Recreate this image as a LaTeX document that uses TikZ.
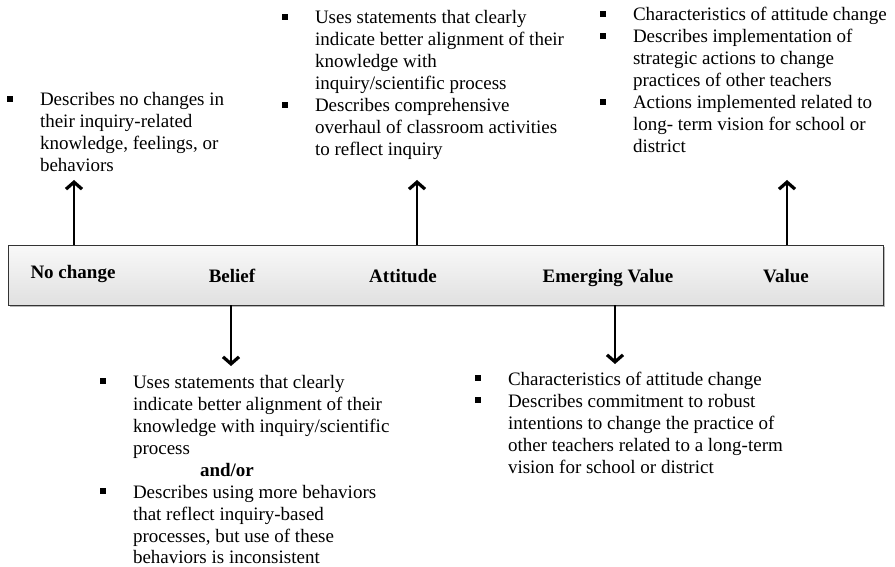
\documentclass[tikz,border=0pt]{standalone}
\usepackage{fontspec}
\setmainfont{Liberation Serif}
\usetikzlibrary{arrows.meta,shadows}

% square bullet followed by the hanging text column
\newcommand\sqb{\makebox[33pt][l]{\rule[4pt]{6pt}{6pt}}}

\begin{document}
\begin{tikzpicture}[x=1pt,y=-1pt,
  every node/.style={inner sep=0pt,outer sep=0pt},
  body/.style={anchor=base west,font=\fontsize{19}{22}\selectfont},
  stage/.style={anchor=base,font=\fontsize{19}{22}\selectfont\bfseries},
  arr/.style={line width=2.6pt,
    -{Straight Barb[length=7pt,width=16pt,line width=3.2pt]}},
  band/.style={draw=black!80,line width=0.9pt,top color=gray!5,bottom color=gray!24,
    minimum width=875pt,minimum height=60pt,
    drop shadow={shadow xshift=2pt,shadow yshift=-2pt,fill=gray!70,opacity=0.8}}]

\useasboundingbox (0,0) rectangle (895,567);

% the continuum band
\node[band] (bar) at (445.5,275) {};

\node[stage] (nochange) at (73,278) {No change};
\node[stage] (belief)   at (232,282) {Belief};
\node[stage] (attitude) at (403,282) {Attitude};
\node[stage] (emerging) at (608,282) {Emerging Value};
\node[stage] (value)    at (786,282) {Value};

% arrow ends
\coordinate (t1) at (74,180);
\coordinate (t2) at (417,180);
\coordinate (t3) at (787,180);
\coordinate (t4) at (231,366);
\coordinate (t5) at (615,364);

\draw[arr] (t1 |- bar.north) -- (t1);
\draw[arr] (t2 |- bar.north) -- (t2);
\draw[arr] (t3 |- bar.north) -- (t3);
\draw[arr] (t4 |- bar.south) -- (t4);
\draw[arr] (t5 |- bar.south) -- (t5);

% descriptors above the band
\node[body] (d1) at (7,106) {\begin{tabular}[t]{@{}l@{}l@{}}
\sqb & Describes no changes in\\
 & their inquiry-related\\
 & knowledge, feelings, or\\
 & behaviors
\end{tabular}};

\node[body] (d2) at (282,24) {\begin{tabular}[t]{@{}l@{}l@{}}
\sqb & Uses statements that clearly\\
 & indicate better alignment of their\\
 & knowledge with\\
 & inquiry/scientific process\\
\sqb & Describes comprehensive\\
 & overhaul of classroom activities\\
 & to reflect inquiry
\end{tabular}};

\node[body] (d3) at (600,21) {\begin{tabular}[t]{@{}l@{}l@{}}
\sqb & Characteristics of attitude change\\
\sqb & Describes implementation of\\
 & strategic actions to change\\
 & practices of other teachers\\
\sqb & Actions implemented related to\\
 & long- term vision for school or\\
 & district
\end{tabular}};

% descriptors below the band
\node[body] (d4) at (100,388) {\begin{tabular}[t]{@{}l@{}l@{}}
\sqb & Uses statements that clearly\\
 & indicate better alignment of their\\
 & knowledge with inquiry/scientific\\
 & process\\
 & \hspace{67pt}\textbf{and/or}\\
\sqb & Describes using more behaviors\\
 & that reflect inquiry-based\\
 & processes, but use of these\\
 & behaviors is inconsistent
\end{tabular}};

\node[body] (d5) at (475,385) {\begin{tabular}[t]{@{}l@{}l@{}}
\sqb & Characteristics of attitude change\\
\sqb & Describes commitment to robust\\
 & intentions to change the practice of\\
 & other teachers related to a long-term\\
 & vision for school or district
\end{tabular}};

\end{tikzpicture}
\end{document}
